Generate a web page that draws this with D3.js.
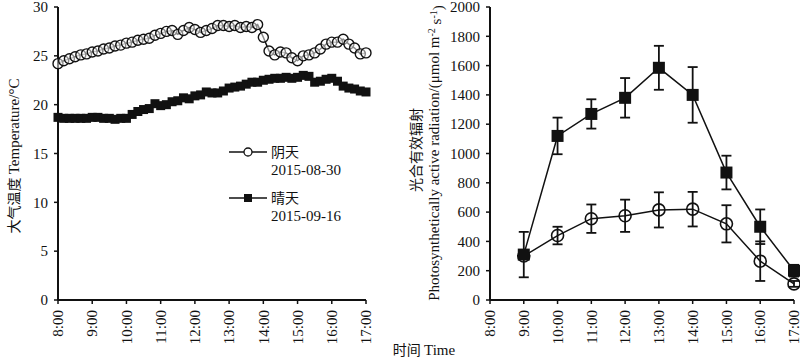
<!DOCTYPE html>
<html>
<head>
<meta charset="utf-8">
<script src="https://cdn.jsdelivr.net/npm/d3@7"></script>
<style>
  body { margin: 0; background: #fff; }
  svg { display: block; }
  text { font-family: "Liberation Serif", "Times New Roman", serif; fill: #111; }
  .cjk { font-family: "Noto Sans CJK SC", sans-serif; }
</style>
</head>
<body>
<div id="chart"></div>
<script>
// time axis labels shared by both panels
const hourTicks = [8, 9, 10, 11, 12, 13, 14, 15, 16, 17];
const hourLabels = ["8:00", "9:00", "10:00", "11:00", "12:00", "13:00", "14:00", "15:00", "16:00", "17:00"];

// left panel: air temperature every 10 min, 8:00-17:00
const tempCloudy = [24.2, 24.5, 24.7, 24.9, 25.1, 25.2, 25.4, 25.5, 25.7, 25.8, 26.0, 26.1,
  26.3, 26.4, 26.6, 26.7, 26.8, 27.1, 27.3, 27.5, 27.6, 27.2, 27.6, 27.9,
  27.7, 27.4, 27.6, 27.8, 28.1, 28.1, 28.0, 28.1, 27.9, 28.0, 27.9, 28.2,
  26.9, 25.5, 25.1, 25.4, 25.3, 24.8, 24.5, 25.0, 25.1, 25.3, 25.7, 26.2,
  26.4, 26.4, 26.7, 26.2, 25.8, 25.2, 25.3];
const tempSunny = [18.7, 18.6, 18.6, 18.6, 18.6, 18.6, 18.7, 18.7, 18.6, 18.6, 18.5, 18.6,
  18.6, 19.0, 19.3, 19.5, 19.6, 20.1, 19.9, 20.0, 20.3, 20.4, 20.7, 20.6,
  20.9, 21.0, 21.3, 21.2, 21.2, 21.4, 21.7, 21.8, 21.9, 22.1, 22.3, 22.3,
  22.5, 22.6, 22.7, 22.7, 22.8, 22.7, 22.8, 23.0, 22.9, 22.3, 22.4, 22.6,
  22.7, 22.4, 21.9, 21.7, 21.6, 21.4, 21.3];
const tempTicks = [0, 5, 10, 15, 20, 25, 30];

// right panel: PAR hourly means and error bars
const parHours = [9, 10, 11, 12, 13, 14, 15, 16, 17];
const parSunny = [310, 1120, 1270, 1380, 1585, 1400, 870, 500, 200];
const parSunnyErr = [155, 125, 100, 135, 150, 190, 115, 118, 40];
const parCloudy = [300, 440, 555, 575, 615, 620, 520, 265, 110];
const parCloudyErr = [0, 60, 97, 110, 120, 118, 127, 135, 20];
const parTicks = [0, 200, 400, 600, 800, 1000, 1200, 1400, 1600, 1800, 2000];

const width = 800, height = 362;
const svg = d3.select("#chart").append("svg")
  .attr("width", width)
  .attr("height", height);

const minutes = tempCloudy.map((d, i) => 8 + i / 6);

// draws axes for one panel
function drawAxes(x, y, yTicks) {
  const g = svg.append("g");
  const [x0, x1] = x.range();
  const [y0, y1] = y.range();

  g.append("line").attr("x1", x0).attr("x2", x0).attr("y1", y0).attr("y2", y1)
    .attr("stroke", "#111").attr("stroke-width", 2);
  g.append("line").attr("x1", x0).attr("x2", x1).attr("y1", y0).attr("y2", y0)
    .attr("stroke", "#111").attr("stroke-width", 2);

  yTicks.forEach(t => {
    g.append("line").attr("x1", x0 - 4).attr("x2", x0).attr("y1", y(t)).attr("y2", y(t))
      .attr("stroke", "#111").attr("stroke-width", 1.5);
    g.append("text").attr("x", x0 - 10).attr("y", y(t)).attr("dy", "0.35em")
      .attr("text-anchor", "end").style("font-size", "15px").text(t);
  });

  hourTicks.forEach((h, i) => {
    g.append("line").attr("x1", x(h)).attr("x2", x(h)).attr("y1", y0).attr("y2", y0 + 4)
      .attr("stroke", "#111").attr("stroke-width", 1.5);
    g.append("text")
      .attr("transform", `translate(${x(h)},${y0 + 10}) rotate(-90)`)
      .attr("dy", "0.35em")
      .attr("text-anchor", "end").style("font-size", "15px").text(hourLabels[i]);
  });
}

// ---- left panel ----
const xL = d3.scaleLinear().domain([8, 17]).range([58, 366]);
const yL = d3.scaleLinear().domain([0, 30]).range([300, 7]);
drawAxes(xL, yL, tempTicks);

const lineL = d3.line().x((d, i) => xL(minutes[i])).y(d => yL(d));

svg.append("path").datum(tempSunny).attr("d", lineL)
  .attr("fill", "none").attr("stroke", "#111").attr("stroke-width", 1.5);
svg.append("g").selectAll("rect").data(tempSunny).join("rect")
  .attr("x", (d, i) => xL(minutes[i]) - 4.5)
  .attr("y", d => yL(d) - 4.5)
  .attr("width", 9).attr("height", 9)
  .attr("fill", "#111");

svg.append("path").datum(tempCloudy).attr("d", lineL)
  .attr("fill", "none").attr("stroke", "#111").attr("stroke-width", 1.5);
svg.append("g").selectAll("circle").data(tempCloudy).join("circle")
  .attr("cx", (d, i) => xL(minutes[i]))
  .attr("cy", d => yL(d))
  .attr("r", 5)
  .attr("fill", "#fff").attr("fill-opacity", 0.5)
  .attr("stroke", "#111").attr("stroke-width", 1.4);

// legend
const leg = svg.append("g");
leg.append("line").attr("x1", 229).attr("x2", 267).attr("y1", 152).attr("y2", 152)
  .attr("stroke", "#111").attr("stroke-width", 1.5);
leg.append("circle").attr("cx", 248).attr("cy", 152).attr("r", 4)
  .attr("fill", "#fff").attr("stroke", "#111").attr("stroke-width", 1.3);
leg.append("text").attr("class", "cjk").attr("x", 271).attr("y", 152).attr("dy", "0.35em")
  .style("font-size", "14px").text("阴天");
leg.append("text").attr("x", 271).attr("y", 170).attr("dy", "0.35em")
  .style("font-size", "15px").text("2015-08-30");
leg.append("line").attr("x1", 229).attr("x2", 267).attr("y1", 198).attr("y2", 198)
  .attr("stroke", "#111").attr("stroke-width", 1.5);
leg.append("rect").attr("x", 244).attr("y", 194).attr("width", 8).attr("height", 8)
  .attr("fill", "#111");
leg.append("text").attr("class", "cjk").attr("x", 271).attr("y", 198).attr("dy", "0.35em")
  .style("font-size", "14px").text("晴天");
leg.append("text").attr("x", 271).attr("y", 216).attr("dy", "0.35em")
  .style("font-size", "15px").text("2015-09-16");

// left y label
const ylabL = svg.append("text")
  .attr("transform", "translate(14,156) rotate(-90)")
  .attr("text-anchor", "middle").attr("dy", "0.35em")
  .style("font-size", "15px");
ylabL.append("tspan").attr("class", "cjk").style("font-size", "14px").text("大气温度 ");
ylabL.append("tspan").text("Temperature/°C");

// ---- right panel ----
const xR = d3.scaleLinear().domain([8, 17]).range([490, 794]);
const yR = d3.scaleLinear().domain([0, 2000]).range([300, 7]);
drawAxes(xR, yR, parTicks);

const lineR = d3.line().x((d, i) => xR(parHours[i])).y(d => yR(d));

function errorBars(vals, errs) {
  const g = svg.append("g").attr("stroke", "#111").attr("stroke-width", 1.8);
  vals.forEach((v, i) => {
    if (!errs[i]) return;
    const cx = xR(parHours[i]);
    const top = yR(v + errs[i]), bot = yR(v - errs[i]);
    g.append("line").attr("x1", cx).attr("x2", cx).attr("y1", top).attr("y2", bot);
    g.append("line").attr("x1", cx - 5).attr("x2", cx + 5).attr("y1", top).attr("y2", top);
    g.append("line").attr("x1", cx - 5).attr("x2", cx + 5).attr("y1", bot).attr("y2", bot);
  });
}

errorBars(parCloudy, parCloudyErr);
errorBars(parSunny, parSunnyErr);

svg.append("path").datum(parCloudy).attr("d", lineR)
  .attr("fill", "none").attr("stroke", "#111").attr("stroke-width", 1.5);
svg.append("g").selectAll("circle").data(parCloudy).join("circle")
  .attr("cx", (d, i) => xR(parHours[i]))
  .attr("cy", d => yR(d))
  .attr("r", 6)
  .attr("fill", "none")
  .attr("stroke", "#111").attr("stroke-width", 1.6);

svg.append("path").datum(parSunny).attr("d", lineR)
  .attr("fill", "none").attr("stroke", "#111").attr("stroke-width", 1.5);
svg.append("g").selectAll("rect").data(parSunny).join("rect")
  .attr("x", (d, i) => xR(parHours[i]) - 6)
  .attr("y", d => yR(d) - 6)
  .attr("width", 12).attr("height", 12)
  .attr("fill", "#111");

// right y label, two lines
svg.append("text").attr("class", "cjk")
  .attr("transform", "translate(416,150) rotate(-90)")
  .attr("text-anchor", "middle").attr("dy", "0.35em")
  .style("font-size", "14px").text("光合有效辐射");
const ylabR = svg.append("text")
  .attr("transform", "translate(434,153) rotate(-90)")
  .attr("text-anchor", "middle").attr("dy", "0.35em")
  .style("font-size", "15px");
ylabR.append("tspan").text("Photosynthetically active radiation/(μmol m");
ylabR.append("tspan").attr("dy", "-0.4em").style("font-size", "10px").text("-2");
ylabR.append("tspan").attr("dy", "0.4em").text(" s");
ylabR.append("tspan").attr("dy", "-0.4em").style("font-size", "10px").text("-1");
ylabR.append("tspan").attr("dy", "0.4em").text(")");

// shared x label
const xlab = svg.append("text").attr("x", 424).attr("y", 355)
  .attr("text-anchor", "middle").style("font-size", "15px");
xlab.append("tspan").attr("class", "cjk").style("font-size", "14px").text("时间 ");
xlab.append("tspan").text("Time");
</script>
</body>
</html>
